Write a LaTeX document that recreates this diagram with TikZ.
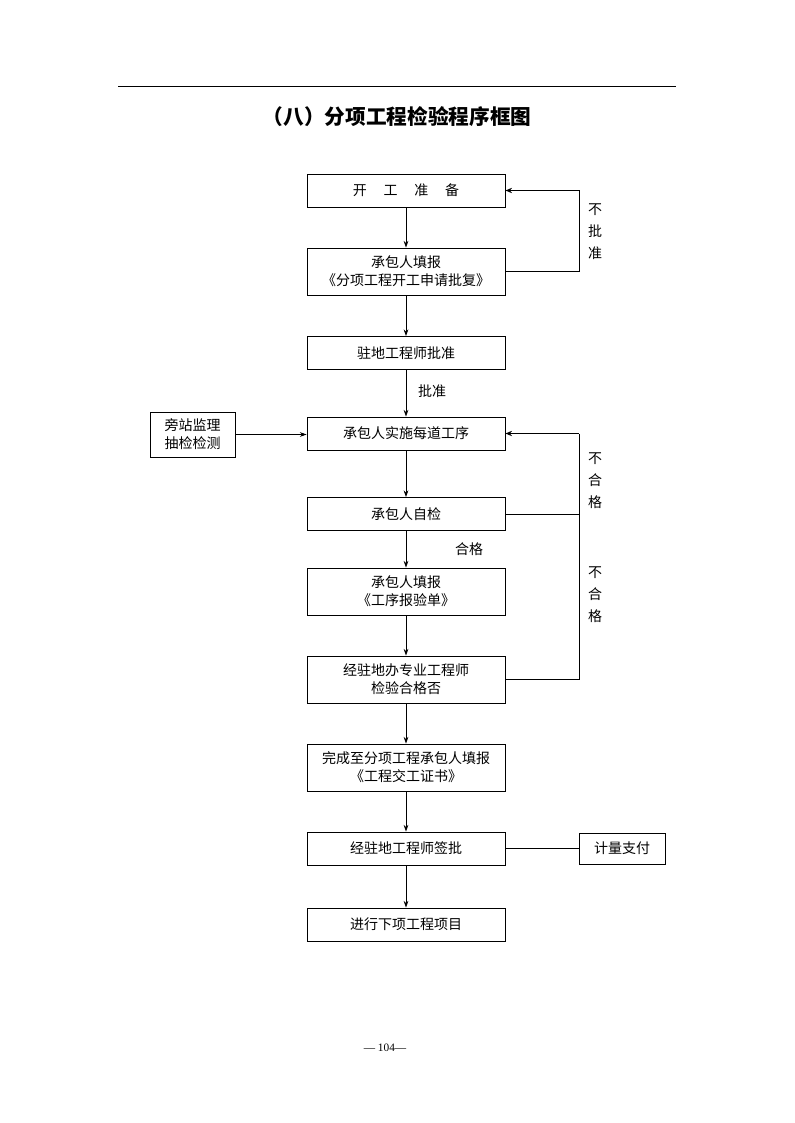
\documentclass[tikz,border=0pt]{standalone}
\usepackage{fontspec}
\newfontfamily\cjk{Noto Sans CJK SC}
\newfontfamily\numfont{Liberation Serif}
\usetikzlibrary{arrows.meta}
\begin{document}
\begin{tikzpicture}[x=0.75pt,y=-0.75pt,
  box/.style={draw,line width=0.6pt,minimum width=148.5pt,inner sep=1pt,align=center,
    font=\cjk\fontsize{10.5pt}{13.5pt}\selectfont},
  sbox/.style={box,minimum height=24.75pt},
  tbox/.style={box,minimum height=35.25pt},
  lbl/.style={font=\cjk\fontsize{10.5pt}{16.5pt}\selectfont,align=center,inner sep=0pt},
  ln/.style={line width=0.6pt},
  arr/.style={ln,-{Stealth[length=5pt,width=3.5pt]}},
  barr/.style={line width=1.3pt,-{Stealth[length=5pt,width=4pt]}}]
\useasboundingbox (0,0) rectangle (794,1123);
\draw[line width=0.7pt] (118,86) -- (676,86);
\node[font=\cjk\bfseries\fontsize{15.5pt}{18pt}\selectfont] (title) at (397,117) {（八）分项工程检验程序框图};
\node[sbox] (b1) at (406,190.5) {开\hspace{1.2em}工\hspace{1.2em}准\hspace{1.2em}备};
\node[tbox] (b2) at (406,271.5) {承包人填报\\《分项工程开工申请批复》};
\node[sbox] (b3) at (406,353) {驻地工程师批准};
\node[sbox] (b4) at (406,433.5) {承包人实施每道工序};
\node[box,minimum width=63.75pt,minimum height=33.75pt] (side) at (192.5,434.5) {旁站监理\\抽检检测};
\node[sbox] (b5) at (406,514) {承包人自检};
\node[tbox] (b6) at (406,591.5) {承包人填报\\《工序报验单》};
\node[tbox] (b7) at (406,679.5) {经驻地办专业工程师\\检验合格否};
\node[tbox] (b8) at (406,767.5) {完成至分项工程承包人填报\\《工程交工证书》};
\node[sbox] (b9) at (406,848.5) {经驻地工程师签批};
\node[box,minimum width=64.5pt,minimum height=23.25pt] (pay) at (622,848.5) {计量支付};
\node[sbox] (b10) at (406,924.5) {进行下项工程项目};
\coordinate (rx) at (579,0);
\draw[arr] (b1) -- (b2);
\draw[arr] (b2) -- (b3);
\draw[arr] (b3) -- (b4);
\draw[arr] (b4) -- (b5);
\draw[arr] (b5) -- (b6);
\draw[arr] (b6) -- (b7);
\draw[arr] (b7) -- (b8);
\draw[arr] (b8) -- (b9);
\draw[arr] (b9) -- (b10);
\draw[arr] (side) -- (side -| b4.west);
\draw[ln] (b9) -- (pay);
\draw[ln] (b2.east) -- (b2.east -| rx) -- (b1.east -| rx);
\draw[barr] (b1.east -| rx) -- (b1.east);
\draw[ln] (b5.east) -- (b5.east -| rx);
\draw[ln] (b7.east) -- (b7.east -| rx) -- (b4.east -| rx);
\draw[barr] (b4.east -| rx) -- (b4.east);
\node[lbl] (n1) at (595,232) {不\\批\\准};
\node[lbl] (n2) at (432,391) {批准};
\node[lbl] (n3) at (595,481) {不\\合\\格};
\node[lbl] (n4) at (469,549) {合格};
\node[lbl] (n5) at (595,595) {不\\合\\格};
\node[font=\numfont\fontsize{8.5pt}{10pt}\selectfont] (pg) at (385,1048) {— 104—};
\end{tikzpicture}
\end{document}
